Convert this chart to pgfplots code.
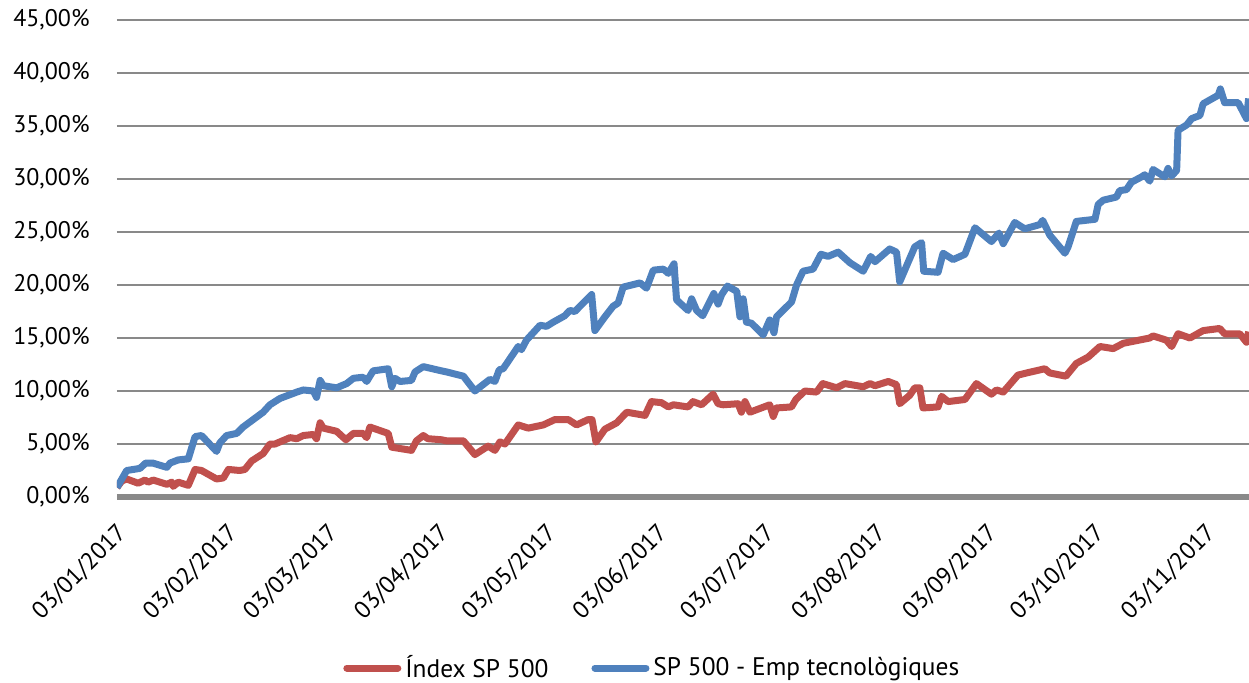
\documentclass[border=0pt]{standalone}
\usepackage{fontspec}
\setmainfont{PT Sans}
\usepackage{pgfplots}
\usepackage{pgfplotstable}
\pgfplotsset{compat=1.18}

\definecolor{sered}{HTML}{C0504D}
\definecolor{seblue}{HTML}{4F81BD}
\definecolor{gridgray}{HTML}{898989}

% x = days since 03/01/2017, y = cumulative return in %
\pgfplotstableread{
d v
0 0.9
1.3 1.5
2.7 1.7
5.9 1.3
7.8 1.6
8.7 1.4
10.1 1.6
13.9 1.2
15.3 1.4
15.7 1.0
17.1 1.4
19.9 1.1
21.8 2.6
23.6 2.5
27.8 1.7
29.7 1.8
31.1 2.6
34.3 2.5
35.7 2.6
37.6 3.4
40.8 4.1
42.7 5.0
44.1 5.0
48.3 5.6
50.2 5.5
52.0 5.8
54.8 5.9
55.7 5.5
56.7 7.0
57.6 6.5
61.3 6.2
63.9 5.4
66.0 6.0
68.7 6.0
69.7 5.6
70.6 6.6
75.7 6.0
76.7 4.7
82.2 4.4
83.6 5.3
85.5 5.8
86.8 5.5
90.6 5.4
92.0 5.3
96.7 5.3
99.9 4.0
103.6 4.8
105.5 4.4
106.9 5.2
108.3 5.0
112.0 6.8
114.8 6.5
119.0 6.8
122.2 7.3
126.0 7.3
128.3 6.8
131.5 7.3
132.6 7.3
133.7 5.2
136.2 6.4
139.5 7.0
142.3 8.0
147.4 7.7
149.2 9.0
152.0 8.9
153.9 8.5
155.3 8.7
159.4 8.5
160.8 9.0
163.2 8.7
166.4 9.7
167.8 8.8
169.2 8.7
173.4 8.8
174.3 8.0
175.3 9.0
176.7 8.0
182.2 8.7
183.2 7.6
184.1 8.4
188.3 8.5
189.5 9.2
192.0 10.0
195.3 9.9
197.0 10.7
200.9 10.3
203.2 10.7
208.3 10.4
210.2 10.7
211.6 10.5
215.3 10.9
217.6 10.6
218.5 8.8
221.3 9.6
222.7 10.3
224.1 10.3
225.0 8.4
229.2 8.5
230.2 9.5
232.0 9.0
236.7 9.2
239.9 10.7
244.1 9.7
245.5 10.1
247.4 9.9
251.5 11.5
253.9 11.7
259.0 12.1
260.4 11.7
264.9 11.4
267.8 12.6
271.1 13.2
274.4 14.2
278.1 14.0
280.9 14.5
288.3 15.0
289.2 15.2
292.9 14.8
294.4 14.2
296.2 15.4
299.5 15.0
303.2 15.7
307.8 15.9
309.2 15.4
313.4 15.4
315.3 14.6
315.9 15.6
}\sptable

\pgfplotstableread{
d v
0 0.9
2.7 2.5
6.4 2.7
8.0 3.2
10.0 3.2
13.9 2.8
14.8 3.2
17.1 3.5
19.9 3.6
21.8 5.7
23.6 5.8
27.8 4.3
28.7 5.1
30.6 5.8
33.4 6.0
35.2 6.6
40.8 8.0
42.7 8.7
45.5 9.3
50.2 9.9
52.0 10.1
54.8 10.0
55.7 9.4
56.7 11.0
57.6 10.5
61.3 10.3
64.1 10.7
66.0 11.2
68.7 11.3
69.7 10.9
71.5 11.9
75.7 12.1
76.7 10.4
77.6 11.2
79.0 10.9
82.2 11.0
83.2 11.8
85.5 12.3
90.6 11.9
92.0 11.8
96.7 11.4
99.9 10.0
104.1 11.1
105.5 10.9
106.7 12.0
107.8 12.1
112.0 14.2
112.9 13.9
114.3 14.8
118.1 16.2
119.9 16.1
121.8 16.5
125.0 17.1
126.4 17.6
127.8 17.5
132.5 19.1
133.4 15.7
136.2 17.0
138.5 18.0
139.9 18.3
141.3 19.8
146.0 20.2
147.8 19.7
149.7 21.4
152.5 21.5
153.9 21.1
155.5 22.0
156.2 18.6
159.4 17.6
160.4 18.7
161.8 17.6
163.5 17.1
166.6 19.2
167.8 18.2
168.8 19.1
170.4 19.9
173.0 19.4
173.9 17.0
174.8 18.7
175.7 16.5
177.1 16.4
180.4 15.3
182.2 16.7
183.4 15.5
184.1 17.0
188.3 18.4
189.7 20.0
191.5 21.3
194.3 21.5
196.5 22.9
198.5 22.7
201.3 23.1
204.6 22.1
208.3 21.3
210.4 22.7
211.6 22.2
215.7 23.4
217.6 23.1
218.5 20.3
219.9 21.4
222.7 23.6
224.6 24.0
225.2 21.3
229.2 21.2
230.6 23.0
233.4 22.4
236.7 22.9
239.5 25.4
244.1 24.1
246.2 24.9
247.4 23.9
250.6 25.9
253.4 25.3
257.6 25.7
258.4 26.1
260.4 24.7
264.6 23.0
265.5 23.6
267.8 26.0
273.0 26.2
273.9 27.6
275.3 28.0
279.0 28.3
279.9 28.9
281.8 29.0
283.2 29.7
286.0 30.2
286.9 30.4
288.3 29.8
289.2 30.9
292.5 30.2
293.4 31.0
294.4 30.3
295.8 30.8
296.2 34.6
298.6 35.1
300.0 35.7
302.3 36.0
303.2 37.1
307.4 37.9
308.0 38.5
309.2 37.2
313.0 37.2
315.3 35.7
315.9 37.6
}\techtable

\begin{document}
\begin{tikzpicture}
\begin{axis}[
    scale only axis,
    width=566pt, height=238.5pt,
    xmin=0, xmax=316,
    ymin=0, ymax=45,
    axis line style={draw=none},
    major tick length=0pt,
    font=\fontsize{12}{14}\selectfont,
    ytick={0,5,...,45},
    ymajorgrids,
    grid style={gridgray, line width=1pt},
    yticklabel={\pgfmathprintnumber{\tick}\%},
    /pgf/number format/.cd, fixed, fixed zerofill, precision=2, use comma,
        assume math mode=true,
    /pgfplots/.cd,
    yticklabel style={anchor=east, inner sep=0pt, xshift=-13.5pt},
    extra y ticks={0},
    extra y tick labels={},
    extra y tick style={grid style={gridgray, line width=2.75pt}},
    xtick={0,31,59,90,120,151,181,212,243,273,304},
    xticklabels={03/01/2017,03/02/2017,03/03/2017,03/04/2017,03/05/2017,
                 03/06/2017,03/07/2017,03/08/2017,03/09/2017,03/10/2017,03/11/2017},
    xticklabel style={xshift=3pt, yshift=-16pt, rotate=45, anchor=east, inner sep=0pt},
    legend columns=2,
    legend style={at={(0.472,-0.3585)}, anchor=center, draw=none, fill=none,
        font=\fontsize{12.7}{14}\selectfont,
        nodes={inner sep=0pt},
        /tikz/every odd column/.append style={column sep=2pt},
        /tikz/every even column/.append style={column sep=21.5pt}},
    legend image code/.code={\draw[#1, line width=3.5pt, line cap=round]
        (1.75pt,0pt) -- (27.25pt,0pt);},
    every axis plot/.append style={line width=3.5pt, line join=round},
]
\addplot[sered] table[x=d, y=v] {\sptable};
\addlegendentry{Índex SP 500}
\addplot[seblue] table[x=d, y=v] {\techtable};
\addlegendentry{SP 500 - Emp tecnològiques}
\end{axis}
\pgfresetboundingbox
\path (-58.5pt,-92.5pt) rectangle (566pt,248.5pt);
\end{tikzpicture}
\end{document}
